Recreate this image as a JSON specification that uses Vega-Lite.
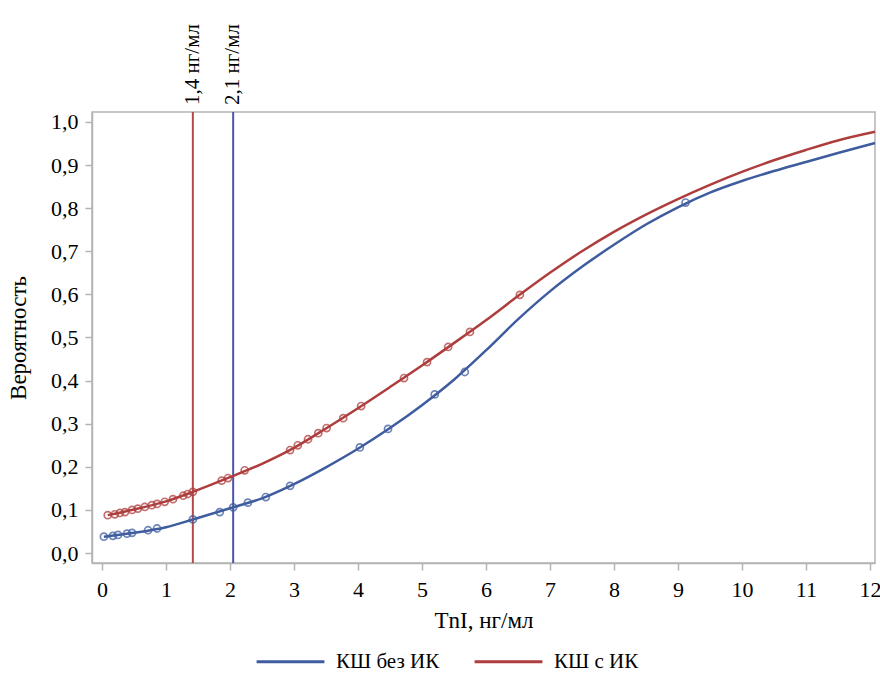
{
  "$schema": "https://vega.github.io/schema/vega-lite/v6.json",
  "autosize": {"type": "none"},
  "padding": {"left": 92, "top": 112, "right": 5, "bottom": 110},
  "width": 783,
  "height": 451,
  "background": "white",
  "config": {
    "view": {"stroke": "#b4b4b4", "strokeWidth": 1.5},
    "font": "Liberation Serif",
    "axis": {
      "labelFont": "Liberation Serif", "labelFontSize": 22, "labelColor": "black",
      "titleFont": "Liberation Serif", "titleFontSize": 23, "titleColor": "black", "titleFontWeight": "normal",
      "domainColor": "#b4b4b4", "domainWidth": 1.5, "tickColor": "#b4b4b4", "tickWidth": 1.5, "tickSize": 7, "grid": false
    },
    "legend": {"labelFont": "Liberation Serif", "labelFontSize": 21, "labelColor": "black"}
  },
  "datasets": {
    "curves": [
      {"x": 0.03, "y": 0.038, "s": "КШ без ИК"},
      {"x": 0.5, "y": 0.047, "s": "КШ без ИК"},
      {"x": 1.0, "y": 0.06, "s": "КШ без ИК"},
      {"x": 1.42, "y": 0.078, "s": "КШ без ИК"},
      {"x": 2.0, "y": 0.104, "s": "КШ без ИК"},
      {"x": 2.5, "y": 0.127, "s": "КШ без ИК"},
      {"x": 3.0, "y": 0.16, "s": "КШ без ИК"},
      {"x": 3.5, "y": 0.199, "s": "КШ без ИК"},
      {"x": 4.0, "y": 0.242, "s": "КШ без ИК"},
      {"x": 4.5, "y": 0.29, "s": "КШ без ИК"},
      {"x": 5.0, "y": 0.343, "s": "КШ без ИК"},
      {"x": 5.5, "y": 0.402, "s": "КШ без ИК"},
      {"x": 6.0, "y": 0.47, "s": "КШ без ИК"},
      {"x": 6.5, "y": 0.542, "s": "КШ без ИК"},
      {"x": 7.0, "y": 0.607, "s": "КШ без ИК"},
      {"x": 7.5, "y": 0.664, "s": "КШ без ИК"},
      {"x": 8.0, "y": 0.715, "s": "КШ без ИК"},
      {"x": 8.5, "y": 0.762, "s": "КШ без ИК"},
      {"x": 9.0, "y": 0.802, "s": "КШ без ИК"},
      {"x": 9.5, "y": 0.836, "s": "КШ без ИК"},
      {"x": 10.0, "y": 0.863, "s": "КШ без ИК"},
      {"x": 10.5, "y": 0.886, "s": "КШ без ИК"},
      {"x": 11.0, "y": 0.907, "s": "КШ без ИК"},
      {"x": 11.5, "y": 0.928, "s": "КШ без ИК"},
      {"x": 12.08, "y": 0.951, "s": "КШ без ИК"},
      {"x": 0.09, "y": 0.088, "s": "КШ с ИК"},
      {"x": 0.5, "y": 0.101, "s": "КШ с ИК"},
      {"x": 1.0, "y": 0.12, "s": "КШ с ИК"},
      {"x": 1.42, "y": 0.142, "s": "КШ с ИК"},
      {"x": 2.0, "y": 0.176, "s": "КШ с ИК"},
      {"x": 2.5, "y": 0.207, "s": "КШ с ИК"},
      {"x": 3.0, "y": 0.244, "s": "КШ с ИК"},
      {"x": 3.5, "y": 0.289, "s": "КШ с ИК"},
      {"x": 4.0, "y": 0.336, "s": "КШ с ИК"},
      {"x": 4.5, "y": 0.385, "s": "КШ с ИК"},
      {"x": 5.0, "y": 0.435, "s": "КШ с ИК"},
      {"x": 5.5, "y": 0.487, "s": "КШ с ИК"},
      {"x": 6.0, "y": 0.54, "s": "КШ с ИК"},
      {"x": 6.5, "y": 0.596, "s": "КШ с ИК"},
      {"x": 7.0, "y": 0.65, "s": "КШ с ИК"},
      {"x": 7.5, "y": 0.70, "s": "КШ с ИК"},
      {"x": 8.0, "y": 0.745, "s": "КШ с ИК"},
      {"x": 8.5, "y": 0.785, "s": "КШ с ИК"},
      {"x": 9.0, "y": 0.821, "s": "КШ с ИК"},
      {"x": 9.5, "y": 0.854, "s": "КШ с ИК"},
      {"x": 10.0, "y": 0.884, "s": "КШ с ИК"},
      {"x": 10.5, "y": 0.911, "s": "КШ с ИК"},
      {"x": 11.0, "y": 0.935, "s": "КШ с ИК"},
      {"x": 11.5, "y": 0.957, "s": "КШ с ИК"},
      {"x": 12.08, "y": 0.977, "s": "КШ с ИК"}
    ],
    "points": [
      {"x": 0.03, "y": 0.038, "s": "КШ без ИК"},
      {"x": 0.17, "y": 0.040, "s": "КШ без ИК"},
      {"x": 0.25, "y": 0.042, "s": "КШ без ИК"},
      {"x": 0.39, "y": 0.045, "s": "КШ без ИК"},
      {"x": 0.47, "y": 0.047, "s": "КШ без ИК"},
      {"x": 0.72, "y": 0.053, "s": "КШ без ИК"},
      {"x": 0.86, "y": 0.057, "s": "КШ без ИК"},
      {"x": 1.42, "y": 0.078, "s": "КШ без ИК"},
      {"x": 1.84, "y": 0.095, "s": "КШ без ИК"},
      {"x": 2.05, "y": 0.106, "s": "КШ без ИК"},
      {"x": 2.28, "y": 0.117, "s": "КШ без ИК"},
      {"x": 2.56, "y": 0.13, "s": "КШ без ИК"},
      {"x": 2.94, "y": 0.156, "s": "КШ без ИК"},
      {"x": 4.03, "y": 0.245, "s": "КШ без ИК"},
      {"x": 4.47, "y": 0.288, "s": "КШ без ИК"},
      {"x": 5.2, "y": 0.368, "s": "КШ без ИК"},
      {"x": 5.67, "y": 0.42, "s": "КШ без ИК"},
      {"x": 9.12, "y": 0.813, "s": "КШ без ИК"},
      {"x": 0.09, "y": 0.088, "s": "КШ с ИК"},
      {"x": 0.2, "y": 0.090, "s": "КШ с ИК"},
      {"x": 0.28, "y": 0.093, "s": "КШ с ИК"},
      {"x": 0.36, "y": 0.095, "s": "КШ с ИК"},
      {"x": 0.47, "y": 0.1, "s": "КШ с ИК"},
      {"x": 0.56, "y": 0.103, "s": "КШ с ИК"},
      {"x": 0.67, "y": 0.107, "s": "КШ с ИК"},
      {"x": 0.78, "y": 0.111, "s": "КШ с ИК"},
      {"x": 0.86, "y": 0.114, "s": "КШ с ИК"},
      {"x": 0.98, "y": 0.119, "s": "КШ с ИК"},
      {"x": 1.11, "y": 0.125, "s": "КШ с ИК"},
      {"x": 1.27, "y": 0.133, "s": "КШ с ИК"},
      {"x": 1.34, "y": 0.137, "s": "КШ с ИК"},
      {"x": 1.42, "y": 0.142, "s": "КШ с ИК"},
      {"x": 1.87, "y": 0.168, "s": "КШ с ИК"},
      {"x": 1.97, "y": 0.174, "s": "КШ с ИК"},
      {"x": 2.23, "y": 0.192, "s": "КШ с ИК"},
      {"x": 2.94, "y": 0.239, "s": "КШ с ИК"},
      {"x": 3.06, "y": 0.25, "s": "КШ с ИК"},
      {"x": 3.22, "y": 0.264, "s": "КШ с ИК"},
      {"x": 3.38, "y": 0.278, "s": "КШ с ИК"},
      {"x": 3.51, "y": 0.29, "s": "КШ с ИК"},
      {"x": 3.77, "y": 0.313, "s": "КШ с ИК"},
      {"x": 4.05, "y": 0.341, "s": "КШ с ИК"},
      {"x": 4.72, "y": 0.406, "s": "КШ с ИК"},
      {"x": 5.08, "y": 0.443, "s": "КШ с ИК"},
      {"x": 5.41, "y": 0.478, "s": "КШ с ИК"},
      {"x": 5.75, "y": 0.513, "s": "КШ с ИК"},
      {"x": 6.53, "y": 0.599, "s": "КШ с ИК"}
    ],
    "cuts": [
      {"x": 1.42, "s": "КШ с ИК", "label": "1,4 нг/мл"},
      {"x": 2.05, "s": "КШ без ИК", "label": "2,1 нг/мл"}
    ]
  },
  "encoding": {
    "x": {"field": "x", "type": "quantitative",
      "scale": {"domain": [-0.156, 12.08], "nice": false, "zero": false},
      "axis": {"values": [0,1,2,3,4,5,6,7,8,9,10,11,12], "title": "TnI, нг/мл", "labelPadding": 9, "titlePadding": 9}},
    "color": {"field": "s", "type": "nominal",
      "scale": {"domain": ["КШ без ИК", "КШ с ИК"], "range": ["#3E5C9E", "#AE3E3E"]},
      "legend": null}
  },
  "layer": [
    {
      "data": {"name": "cuts"},
      "mark": {"type": "rule", "strokeWidth": 2},
      "encoding": {
        "color": {"field": "s", "type": "nominal", "scale": {"range": ["#4A56A6", "#B5494C"]}, "legend": null}
      }
    },
    {
      "data": {"name": "points"},
      "mark": {"type": "point", "shape": "circle", "filled": false, "size": 50, "strokeWidth": 1.7, "opacity": 0.75},
      "encoding": {
        "y": {"field": "y", "type": "quantitative"}
      }
    },
    {
      "data": {"name": "curves"},
      "mark": {"type": "line", "strokeWidth": 2.5, "interpolate": "monotone"},
      "encoding": {
        "y": {"field": "y", "type": "quantitative",
          "scale": {"domain": [-0.023, 1.023], "nice": false, "zero": false},
          "axis": {"values": [0,0.1,0.2,0.3,0.4,0.5,0.6,0.7,0.8,0.9,1.0],
            "labelExpr": "replace(format(datum.value, '.1f'), '.', ',')",
            "title": "Вероятность", "labelPadding": 7, "titlePadding": 20}},
        "color": {"field": "s", "type": "nominal",
          "legend": {"orient": "none", "legendX": 163, "legendY": 514, "direction": "horizontal", "title": null,
            "symbolType": "stroke", "symbolSize": 4600, "symbolStrokeWidth": 3,
            "labelOffset": 10, "columnPadding": 28}}
      }
    },
    {
      "data": {"name": "cuts"},
      "mark": {"type": "text", "angle": -90, "align": "left", "baseline": "middle", "fontSize": 21, "font": "Liberation Serif", "color": "black", "dx": 7},
      "encoding": {
        "y": {"datum": 1.023},
        "text": {"field": "label"},
        "color": {"value": "black"}
      }
    }
  ],
  "resolve": {"scale": {"color": "independent"}}
}
